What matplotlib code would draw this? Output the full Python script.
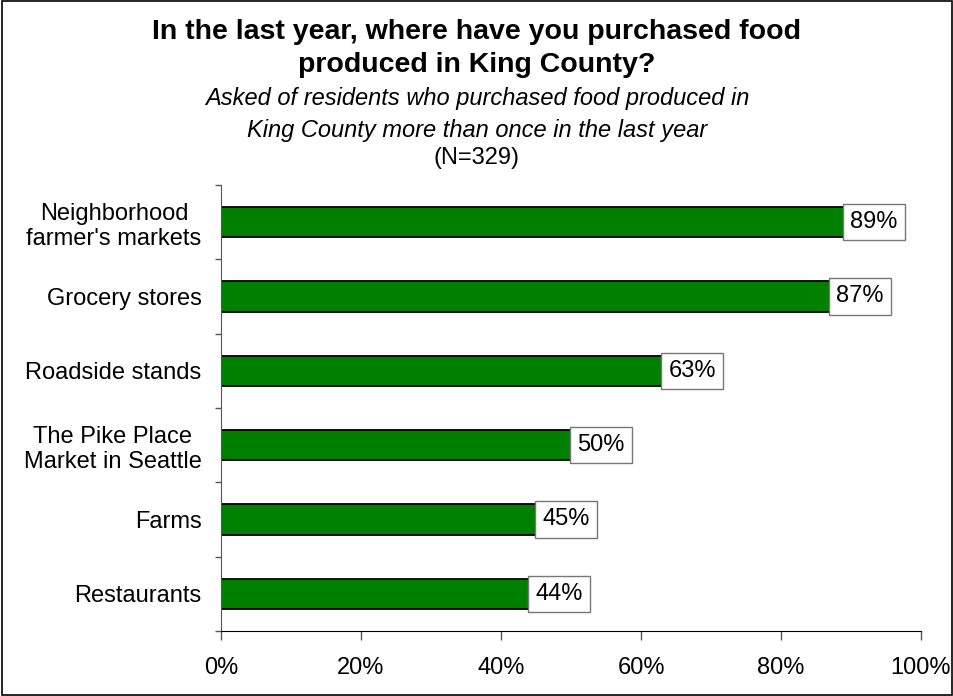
import matplotlib.pyplot as plt
import numpy as np
from matplotlib.ticker import FixedLocator, PercentFormatter
from matplotlib.patches import Rectangle

plt.rcParams['font.family'] = ['Liberation Sans', 'DejaVu Sans']

categories = ["Neighborhood\nfarmer's markets", "Grocery stores", "Roadside stands",
              "The Pike Place\nMarket in Seattle", "Farms", "Restaurants"]
values = [89, 87, 63, 50, 45, 44]
value_labels = ["89%", "87%", "63%", "50%", "45%", "44%"]

fig = plt.figure(figsize=(9.54, 6.96), dpi=100)
ax = fig.add_axes([0.2317, 0.0934, 0.7337, 0.6408])

# frame around the whole figure
fig.patches.append(Rectangle((0.002, 0.002), 0.996, 0.996, transform=fig.transFigure,
                             fill=False, edgecolor='black', linewidth=1.2))

ypos = np.arange(len(categories))
ax.barh(ypos, values, height=0.41, color='#008000', edgecolor='black', linewidth=1.3)

for y, v, lab in zip(ypos, values, value_labels):
    ax.text(v + 0.9, y, lab, ha='left', va='center', fontsize=17,
            bbox=dict(boxstyle='square,pad=0.3', facecolor='white', edgecolor='#777777', linewidth=1))

ax.set_xlim(0, 100)
ax.set_ylim(len(categories) - 0.5, -0.5)
ax.xaxis.set_major_locator(FixedLocator([0, 20, 40, 60, 80, 100]))
ax.xaxis.set_major_formatter(PercentFormatter(decimals=0))

ax.set_yticks(ypos)
ax.set_yticklabels(categories, fontsize=17, multialignment='center')
ax.yaxis.set_minor_locator(FixedLocator(np.arange(-0.5, len(categories), 1.0)))
ax.tick_params(axis='y', which='major', length=0, pad=14)
ax.tick_params(axis='y', which='minor', length=4.5, width=1, color='#555555', direction='out')
ax.tick_params(axis='x', length=6.5, width=1, color='#555555', direction='out', labelsize=17, pad=12)

for s in ['top', 'right']:
    ax.spines[s].set_visible(False)
ax.spines['left'].set_color('#555555')
ax.spines['bottom'].set_color('black')

fig.text(0.5, 0.954, "In the last year, where have you purchased food", ha='center', va='center',
         fontsize=20.5, fontweight='bold')
fig.text(0.5, 0.907, "produced in King County?", ha='center', va='center',
         fontsize=20.5, fontweight='bold')
fig.text(0.5, 0.859, "Asked of residents who purchased food produced in", ha='center', va='center',
         fontsize=17, style='italic')
fig.text(0.5, 0.813, "King County more than once in the last year", ha='center', va='center',
         fontsize=17, style='italic')
fig.text(0.5, 0.773, "(N=329)", ha='center', va='center', fontsize=17)

plt.savefig("out.png", dpi=100)
